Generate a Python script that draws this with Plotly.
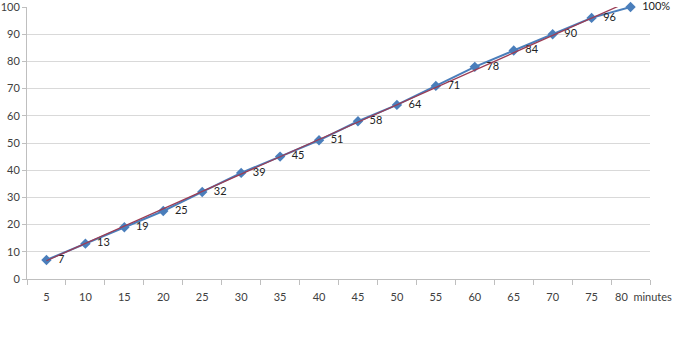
import numpy as np
import plotly.graph_objects as go

categories = ["5", "10", "15", "20", "25", "30", "35", "40", "45", "50",
              "55", "60", "65", "70", "75", "80"]
axis_unit = "minutes"
values = [7, 13, 19, 25, 32, 39, 45, 51, 58, 64, 71, 78, 84, 90, 96, 100]
labels = ["7", "13", "19", "25", "32", "39", "45", "51", "58", "64",
          "71", "78", "84", "90", "96", "100%"]
y_ticks = list(range(0, 101, 10))

xpos = np.arange(1, len(categories) + 1)
slope, intercept = np.polyfit(xpos, values, 1)
trend_x = [xpos[0], xpos[-1]]
trend_y = [slope * x + intercept for x in trend_x]

font = "Lato, 'Open Sans', sans-serif"
pad = "\u00a0\u00a0"

fig = go.Figure()
fig.add_trace(go.Scatter(
    x=xpos, y=values, mode="lines+markers+text",
    text=[pad + t for t in labels], textposition="middle right",
    textfont=dict(family=font, size=11, color="#222222"),
    line=dict(color="#4A7EBB", width=2),
    marker=dict(symbol="diamond", size=8, color="#4A7EBB"),
    showlegend=False, cliponaxis=False,
))
fig.add_trace(go.Scatter(
    x=trend_x, y=trend_y, mode="lines",
    line=dict(color="#9B3D55", width=1.3),
    showlegend=False, hoverinfo="skip",
))

fig.update_layout(
    width=693, height=343,
    margin=dict(l=27, r=43, t=7, b=64),
    paper_bgcolor="white", plot_bgcolor="white",
    font=dict(family=font, size=11, color="#404040"),
)
# last category label ("80  minutes") placed as in the reference
fig.add_annotation(
    x=xpos[-1], y=0, xref="x", yref="y",
    text=categories[-1] + "\u00a0\u00a0" + axis_unit,
    showarrow=False, xanchor="left", yanchor="middle",
    xshift=-18, yshift=-17,
    font=dict(family=font, size=11, color="#404040"),
)
fig.update_xaxes(
    range=[0.5, len(categories) + 0.5],
    tickmode="array", tickvals=list(xpos[:-1]), ticktext=categories[:-1],
    ticks="", showgrid=False, zeroline=False, tickangle=0,
    showline=True, linecolor="#BFBFBF", linewidth=1,
    minor=dict(tickmode="array",
               tickvals=[x + 0.5 for x in range(0, len(categories) + 1)],
               ticks="outside", ticklen=5, tickcolor="#BFBFBF", showgrid=False),
    tickfont=dict(size=11, color="#404040"),
    ticklabelstandoff=8, automargin=False,
)
fig.update_yaxes(
    range=[0, 100], tickmode="array", tickvals=y_ticks,
    showgrid=True, gridcolor="#D9D9D9", gridwidth=1,
    zeroline=False, showline=True, linecolor="#BFBFBF", linewidth=1,
    ticks="outside", ticklen=4, tickcolor="#BFBFBF",
    tickfont=dict(size=11, color="#404040"),
    ticklabeloverflow="allow", automargin=False,
)

fig.write_html("out.html")
